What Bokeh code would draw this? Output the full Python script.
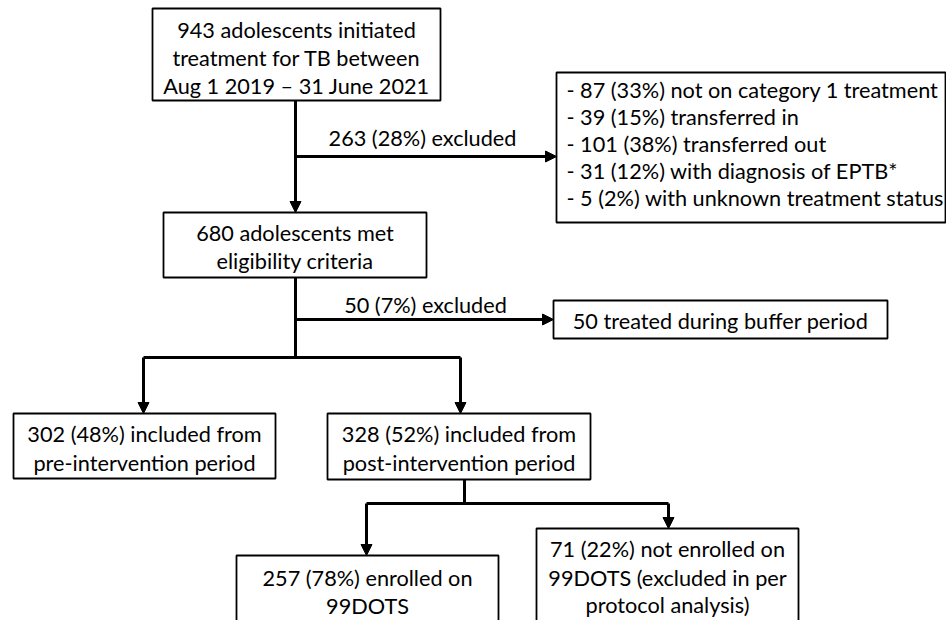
from bokeh.plotting import figure
from bokeh.models import Range1d, Arrow, NormalHead, ColumnDataSource
from bokeh.core.properties import value
from bokeh.embed import file_html
from bokeh.resources import INLINE

# ---- texts (data) ----
start_text = ["943 adolescents initiated", "treatment for TB between", "Aug 1 2019 \u2013 31 June 2021"]
excl1_label = "263 (28%) excluded"
excl1_items = [
    "- 87 (33%) not on category 1 treatment",
    "- 39 (15%) transferred in",
    "- 101 (38%) transferred out",
    "- 31 (12%) with diagnosis of EPTB*",
    "- 5 (2%) with unknown treatment status",
]
eligible_text = ["680 adolescents met", "eligibility criteria"]
excl2_label = "50 (7%) excluded"
excl2_text = ["50 treated during buffer period"]
pre_text = ["302 (48%) included from", "pre-intervention period"]
post_text = ["328 (52%) included from", "post-intervention period"]
enrolled_text = ["257 (78%) enrolled on", "99DOTS"]
not_enrolled_text = ["71 (22%) not enrolled on", "99DOTS (excluded in per", "protocol analysis)"]

# ---- layout (page pixel coordinates) ----
FONT = "Lato"
FS = "21.7px"

boxes = [
    # (left, top, right, bottom, text lines, line centres, align)
    (152, 8, 440, 100, start_text, [29, 57, 85], "center"),
    (556, 72, 945, 222, excl1_items, [89, 116, 143, 170, 197], "left"),
    (163, 212, 426, 277, eligible_text, [232, 260], "center"),
    (553, 300, 887, 338, excl2_text, [320], "center"),
    (13, 413, 275, 478, pre_text, [433, 462], "center"),
    (327, 413, 590, 479, post_text, [433, 462], "center"),
    (236, 555, 498, 650, enrolled_text, [577, 605], "center"),
    (536, 528, 798, 650, not_enrolled_text, [548, 577, 604], "center"),
]

plain_lines = [
    ([295, 295], [277, 357]),
    ([143, 460], [357, 357]),
    ([464, 464], [479, 503]),
    ([366, 668], [503, 503]),
]
arrows = [
    (295, 100, 295, 212),
    (295, 156, 556, 156),
    (295, 319, 553, 319),
    (143, 357, 143, 413),
    (460, 357, 460, 413),
    (366, 503, 366, 555),
    (668, 503, 668, 528),
]
labels = [(422, 137, excl1_label), (425, 304, excl2_label)]

p = figure(width=946, height=620, x_range=Range1d(0, 946), y_range=Range1d(620, 0),
           output_backend="svg", toolbar_location=None, min_border=0,
           x_axis_type=None, y_axis_type=None)
p.grid.visible = False
p.outline_line_color = None
p.background_fill_color = "white"
p.border_fill_color = "white"

for (l, t, r, b, txt, ys, align) in boxes:
    p.quad(left=[l], right=[r], top=[t], bottom=[b], fill_color="white",
           line_color="black", line_width=1.8)
    if align == "center":
        xs = [(l + r) / 2] * len(txt)
    else:
        xs = [l + 10] * len(txt)
    src = ColumnDataSource(dict(x=xs, y=ys, t=txt))
    p.text(x="x", y="y", text="t", source=src, text_align=align, text_baseline="middle",
           text_font=value(FONT), text_font_size=FS, text_color="black")

for xs, ys in plain_lines:
    p.line(xs, ys, line_color="black", line_width=3)

for (x0, y0, x1, y1) in arrows:
    p.add_layout(Arrow(end=NormalHead(size=11, fill_color="black", line_color="black", line_width=1),
                       x_start=x0, y_start=y0, x_end=x1, y_end=y1,
                       line_color="black", line_width=3))

lsrc = ColumnDataSource(dict(x=[a[0] for a in labels], y=[a[1] for a in labels], t=[a[2] for a in labels]))
p.text(x="x", y="y", text="t", source=lsrc, text_align="center", text_baseline="middle",
       text_font=value(FONT), text_font_size=FS, text_color="black")

open("out.html", "w").write(file_html(p, INLINE))
